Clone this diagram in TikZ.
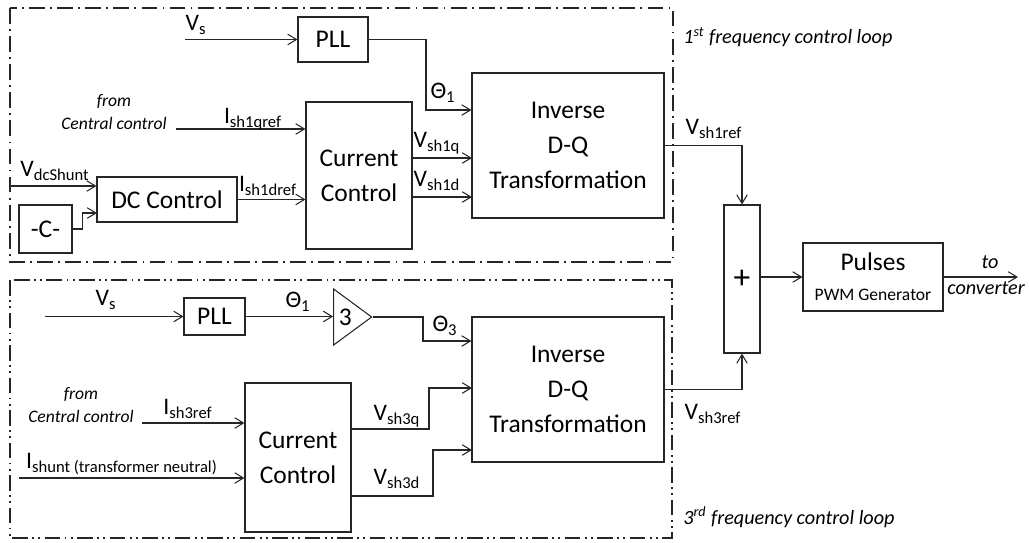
\documentclass[tikz,border=0pt]{standalone}
\usepackage{fontspec}
\setmainfont{Carlito}
\usetikzlibrary{shapes.geometric, arrows.meta, positioning, calc}

\tikzset{
  block/.style={draw=black!85, rectangle, line width=0.6pt, align=center, inner sep=0pt,
    font=\fontsize{14.5}{20}\selectfont},
  gain/.style={draw=black!85, isosceles triangle, isosceles triangle stretches, line width=0.6pt,
    inner sep=0pt, minimum width=1.12cm, minimum height=0.76cm, font=\fontsize{14.5}{17}\selectfont},
  sig/.style={font=\fontsize{13.5}{16}\selectfont, inner sep=1pt},
  note/.style={font=\fontsize{10}{13}\selectfont\itshape, align=center, inner sep=0pt},
  loopnote/.style={font=\fontsize{11.5}{14}\selectfont\itshape, inner sep=0pt, anchor=west},
  wire/.style={draw=black!85, line width=0.6pt, -{Straight Barb[length=5pt,width=6pt]}},
  loopA/.style={draw=black!85, line width=1.1pt, dash pattern=on 9pt off 3pt on 1pt off 3pt},
  loopB/.style={draw=black!85, line width=1.1pt, dash pattern=on 9pt off 2.5pt on 1pt off 2.5pt on 1pt off 2.5pt},
}

\begin{document}
\begin{tikzpicture}[x=0.02cm, y=-0.02cm]
\useasboundingbox (0,0) rectangle (1029,542);

% control loop frames
\draw[loopA] (10,8) rectangle (673,262);
\draw[loopB] (10,280) rectangle (672,538);
\node[loopnote] (noteA) at (683,37) {1\textsuperscript{st} frequency control loop};
\node[loopnote] (noteB) at (683,517) {3\textsuperscript{rd} frequency control loop};

% 1st frequency loop
\node[block, minimum width=1.4cm, minimum height=0.9cm] (pllA) at (333,39.5) {PLL};
\node[block, minimum width=3.84cm, minimum height=2.9cm] (invA) at (568,145.5) {Inverse\\D-Q\\Transformation};
\node[block, minimum width=2.12cm, minimum height=2.94cm] (ccA) at (359,175.5) {Current\\Control};
\node[block, minimum width=2.8cm, minimum height=0.9cm] (dcA) at (167,199.5) {DC Control};
\node[block, minimum width=1.06cm, minimum height=0.96cm] (constA) at (45.5,229) {-C-};

\coordinate (vsA) at (185,39.5);
\coordinate (thA) at (426,110);
\coordinate (refA) at (176,129);
\coordinate (dcsA) at (11,186);
\coordinate (cinA) at (97,213);
\coordinate (qA) at (472,158);
\coordinate (dA) at (472,197);

\draw[wire] (vsA) -- (pllA.west);
\draw[wire] (pllA.east) -| (thA) -- (thA -| invA.west);
\draw[wire] (refA) -- (refA -| ccA.west);
\draw[wire] (dcsA) -- (dcsA -| dcA.west);
\draw[wire] (constA.east) -- ++(10,0) |- (cinA);
\draw[wire] (dcA.east) -- (dcA.east -| ccA.west);
\draw[wire] (qA -| ccA.east) -- (qA);
\draw[wire] (dA -| ccA.east) -- (dA);

\node[sig] (vsAl) at (196,25) {V\textsubscript{s}};
\node[sig] (thAl) at (443,93) {Θ\textsubscript{1}};
\node[note] (fromA) at (114,112) {from\\Central control};
\node[sig] (iqAl) at (253,119) {I\textsubscript{sh1qref}};
\node[sig] (vdcl) at (55,171) {V\textsubscript{dcShunt}};
\node[sig] (idAl) at (268,186) {I\textsubscript{sh1dref}};
\node[sig] (vqAl) at (437,143) {V\textsubscript{sh1q}};
\node[sig] (vdAl) at (437,181) {V\textsubscript{sh1d}};

% summation and PWM
\node[block, minimum width=0.72cm, minimum height=2.96cm, font=\fontsize{19}{20}\selectfont] (sum) at (742,279) {+};
\node[block, minimum width=2.8cm, minimum height=1.36cm] (pwm) at (873,277)
  {Pulses\\[-3pt]{\fontsize{10}{12}\selectfont PWM Generator}};
\coordinate (outP) at (1018,277);

\draw[wire] (invA.east) -| (sum.north);
\draw[wire] (pwm.west -| sum.east) -- (pwm.west);
\draw[wire] (pwm.east) -- (outP);

\node[sig] (vrAl) at (714,129) {V\textsubscript{sh1ref}};
\node[note, font=\fontsize{11.5}{14}\selectfont\itshape] (toP) at (990,262) {to};
\node[note, font=\fontsize{11.5}{14}\selectfont\itshape] (convP) at (986,288) {converter};

% 3rd frequency loop
\node[block, minimum width=1.22cm, minimum height=0.74cm] (pllB) at (214.5,316.5) {PLL};
\node[gain, anchor=apex] (gainB) at (373,317) {3};
\node[block, minimum width=3.84cm, minimum height=2.9cm] (invB) at (568,389.5) {Inverse\\D-Q\\Transformation};
\node[block, minimum width=2.12cm, minimum height=2.98cm] (ccB) at (298,457.5) {Current\\Control};

\coordinate (vsB) at (45,316.5);
\coordinate (thB) at (423,341);
\coordinate (refB) at (142,423);
\coordinate (shB) at (19,478);
\coordinate (qB) at (472,388);
\coordinate (dB) at (472,450);

\draw[wire] (vsB) -- (pllB.west);
\draw[wire] (pllB.east) -- (pllB.east -| gainB.west);
\draw[wire] (gainB.apex) -| (thB) -- (thB -| invB.west);
\draw[wire] (refB) -- (refB -| ccB.west);
\draw[wire] (shB) -- (shB -| ccB.west);
\draw[wire] ($(ccB.east)+(0,-28.5)$) -| ($(qB)+(-43,0)$) -- (qB);
\draw[wire] ($(ccB.east)+(0,38.5)$) -| ($(dB)+(-39,0)$) -- (dB);
\draw[wire] (invB.east) -| (sum.south);

\node[sig] (vsBl) at (106,300) {V\textsubscript{s}};
\node[sig] (thBl) at (298,302) {Θ\textsubscript{1}};
\node[sig] (th3l) at (445,326) {Θ\textsubscript{3}};
\node[note] (fromB) at (81,405) {from\\Central control};
\node[sig] (irBl) at (188,409) {I\textsubscript{sh3ref}};
\node[sig, anchor=west] (ishl) at (24,464) {I\textsubscript{shunt (transformer neutral)}};
\node[sig] (vqBl) at (397,416) {V\textsubscript{sh3q}};
\node[sig] (vdBl) at (397,479) {V\textsubscript{sh3d}};
\node[sig] (vrBl) at (713,414) {V\textsubscript{sh3ref}};
\end{tikzpicture}
\end{document}
